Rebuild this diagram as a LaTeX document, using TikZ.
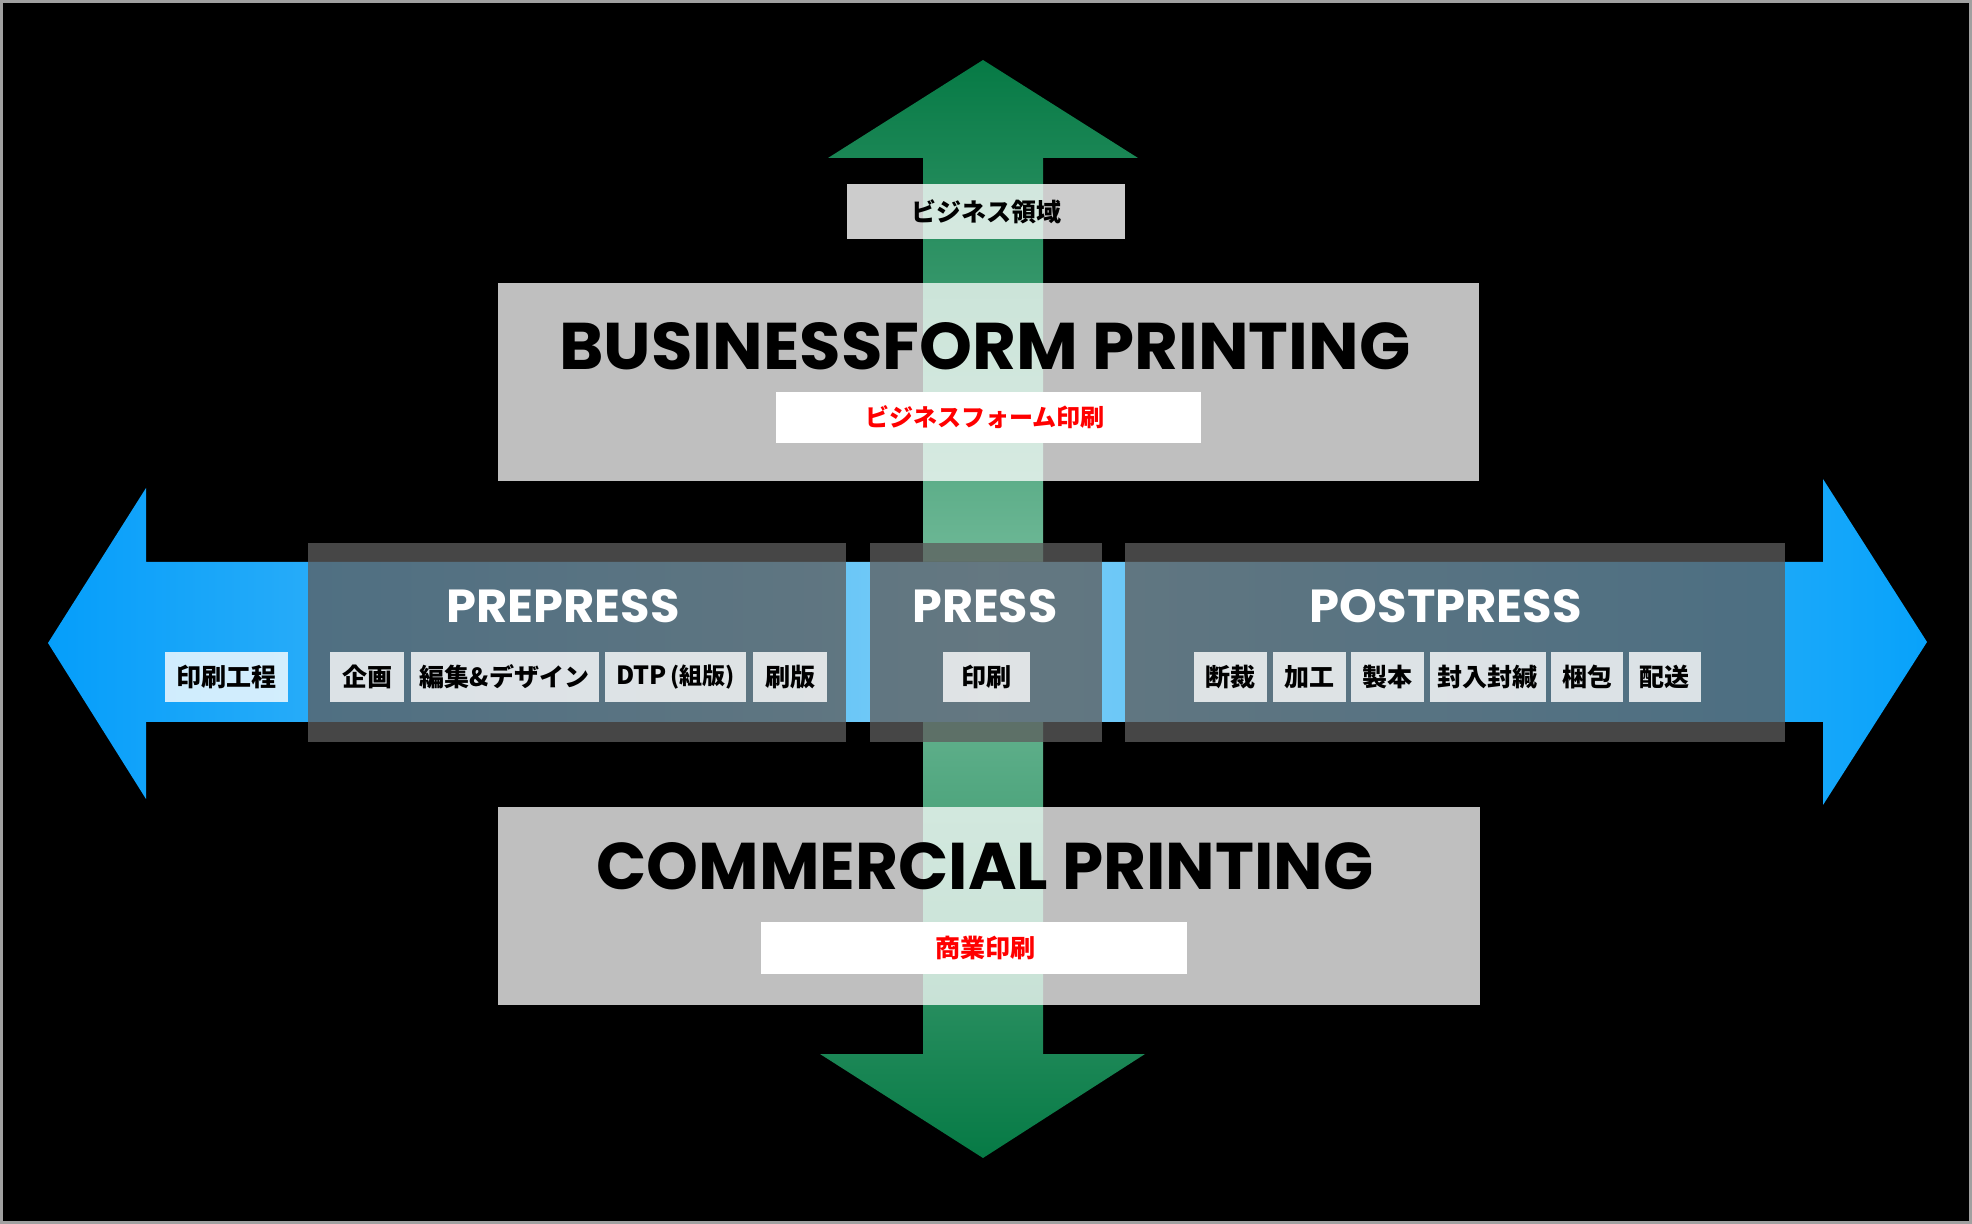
\documentclass[tikz,border=0pt]{standalone}
\usepackage{fontspec}
\usepackage{graphicx}
\setmainfont{Poppins}
\newfontfamily\jpfont{Noto Sans CJK JP}
\usetikzlibrary{positioning}

\definecolor{framegray}{RGB}{160,160,160}
\definecolor{greenend}{RGB}{6,122,69}
\definecolor{greenmid}{RGB}{120,190,158}
\definecolor{blueleft}{RGB}{5,158,250}
\definecolor{bluemid}{RGB}{125,206,246}
\definecolor{blueright}{RGB}{8,162,250}
\definecolor{stagegray}{RGB}{93,93,93}

\tikzset{x=0.5pt,y=-0.5pt,
  bigbox/.style={fill=white, fill opacity=0.75, inner sep=0pt, outer sep=0pt, anchor=north west},
  stagebox/.style={fill=stagegray, fill opacity=0.76, inner sep=0pt, outer sep=0pt, anchor=north west,
    minimum height=99.5pt},
  tagbox/.style={fill=white, fill opacity=0.8, text opacity=1, inner sep=0pt, outer sep=0pt,
    minimum height=25pt, font=\jpfont\bfseries\fontsize{12.5}{12.5}\selectfont},
  namebox/.style={fill=white, inner sep=0pt, outer sep=0pt, anchor=north west},
  nametext/.style={inner sep=0pt, text=red, font=\jpfont\bfseries\fontsize{12}{12}\selectfont},
  bighead/.style={inner sep=0pt, text=black, font=\bfseries},
  stagehead/.style={inner sep=0pt, text=white, font=\bfseries}
}

\begin{document}
\begin{tikzpicture}
\useasboundingbox (0,0) rectangle (1972,1224);
\draw[fill=black, draw=framegray, line width=1.5pt] (1.5,1.5) rectangle (1970.5,1222.5);

% vertical arrow
\fill[top color=greenend, bottom color=greenend, middle color=greenmid]
  (983,60) -- (1138,158) -- (1043,158) -- (1043,1054) -- (1145,1054) -- (983,1158)
  -- (820,1054) -- (923,1054) -- (923,158) -- (828,158) -- cycle;

% business / commercial
\node[bigbox, fill opacity=0.8, text opacity=1, minimum width=139pt, minimum height=27.5pt,
  font=\jpfont\bfseries\fontsize{12.5}{12.5}\selectfont] (domain) at (847,184) {ビジネス領域};
\node[bigbox, minimum width=490.5pt, minimum height=99pt] (bizbox) at (498,283) {};
\node[bigbox, minimum width=491pt, minimum height=99pt] (combox) at (498,807) {};
\node[bighead] (bizhead) at (985,346) {\resizebox{425.5pt}{23.5pt}{BUSINESSFORM PRINTING}};
\node[bighead] (comhead) at (985,866) {\resizebox{388.5pt}{23.5pt}{COMMERCIAL PRINTING}};
\node[namebox, minimum width=212.5pt, minimum height=25.5pt] (bizname) at (776,392) {};
\node[namebox, minimum width=213pt, minimum height=26pt] (comname) at (761,922) {};
\node[nametext] (biztext) at (bizhead |- bizname) {ビジネスフォーム印刷};
\node[nametext, font=\jpfont\bfseries\fontsize{12.5}{12.5}\selectfont] (comtext) at (comhead |- comname) {商業印刷};

% horizontal arrow
\fill[left color=blueleft, right color=blueright, middle color=bluemid]
  (48,643) -- (146,488) -- (146,562) -- (1823,562) -- (1823,479) -- (1927,642)
  -- (1823,805) -- (1823,722) -- (146,722) -- (146,799) -- cycle;

% stages
\node[stagebox, minimum width=269pt] (prepress) at (308,543) {};
\node[stagebox, minimum width=116pt] (press) at (870,543) {};
\node[stagebox, minimum width=330pt] (postpress) at (1125,543) {};
\node[stagehead] (prehead) at (563,606.5) {\resizebox{116.5pt}{16.5pt}{PREPRESS}};
\node[stagehead] (presshead) at (985,606.5) {\resizebox{72.5pt}{16.5pt}{PRESS}};
\node[stagehead] (posthead) at (1446,606.5) {\resizebox{136pt}{16.5pt}{POSTPRESS}};

\node[tagbox, minimum width=61.5pt, anchor=north west] (koutei) at (165,652) {印刷工程};

\node[tagbox, minimum width=37pt, anchor=north west] (kikaku) at (330,652) {企画};
\node[tagbox, minimum width=94pt, right=3.25pt of kikaku] (henshu) {編集\&デザイン};
\node[tagbox, minimum width=70.5pt, right=3.25pt of henshu] (dtp) {DTP\kern2pt{\fontsize{11.5}{11.5}\selectfont(組版)}};
\node[tagbox, minimum width=37pt, right=3.5pt of dtp] (hanpan) {刷版};

\node[tagbox, minimum width=43.5pt, anchor=north west] (insatsu) at (943,652) {印刷};

\node[tagbox, minimum width=36.5pt, anchor=north west] (dansai) at (1194,652) {断裁};
\node[tagbox, minimum width=36.5pt, right=2.75pt of dansai] (kakou) {加工};
\node[tagbox, minimum width=36.5pt, right=2.75pt of kakou] (seihon) {製本};
\node[tagbox, minimum width=58pt, right=2.75pt of seihon] (fuunyu) {封入封緘};
\node[tagbox, minimum width=36pt, right=2.75pt of fuunyu] (konpou) {梱包};
\node[tagbox, minimum width=36pt, right=2.75pt of konpou] (haisou) {配送};
\end{tikzpicture}
\end{document}
